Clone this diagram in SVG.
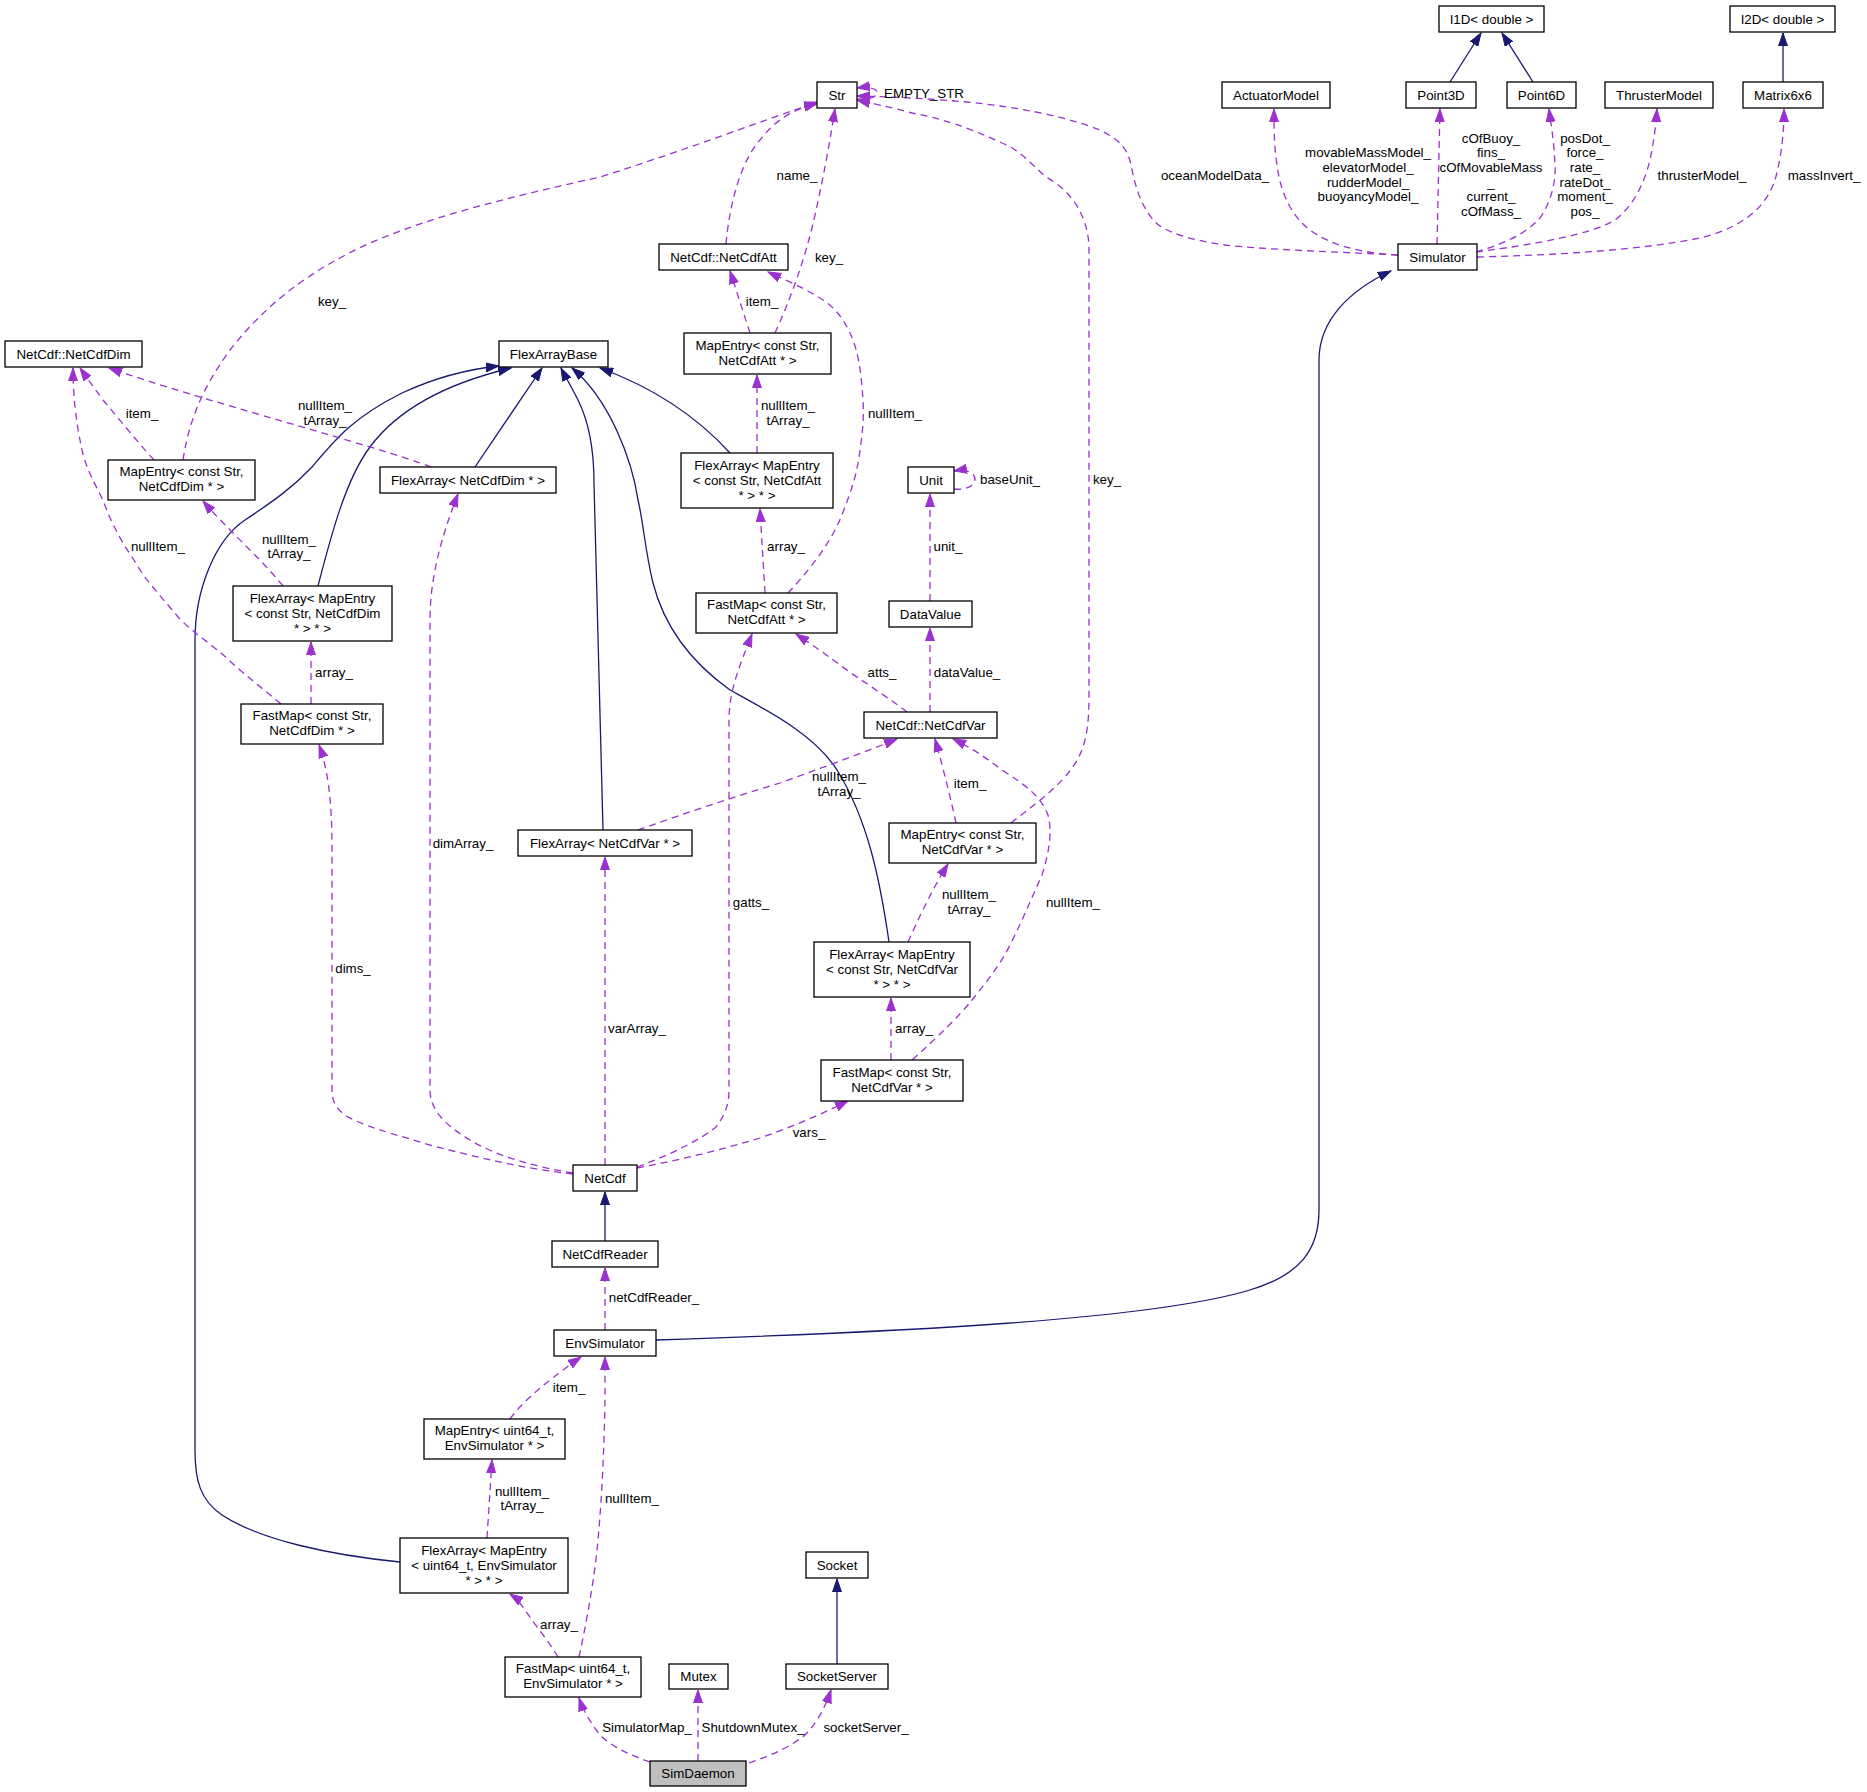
<svg xmlns="http://www.w3.org/2000/svg" width="1867" height="1792" viewBox="0 0 1867 1792">
<style>
.node rect{fill:#fff;stroke:#000;stroke-width:1.3}
.node rect.main{fill:#bfbfbf}
text{font-family:"Liberation Sans",Arial,Helvetica,sans-serif;font-size:13.33px;fill:#000}
.c{text-anchor:middle}
.inh{fill:none;stroke:#191970;stroke-width:1.3;marker-end:url(#ah)}
.use{fill:none;stroke:#9a32cd;stroke-width:1.3;stroke-dasharray:7,5;marker-end:url(#ap)}
</style>
<defs>
<marker id="ah" markerWidth="14" markerHeight="10" refX="13" refY="5" orient="auto" markerUnits="userSpaceOnUse" viewBox="0 0 14 10"><path d="M0,0.5 L13,5 L0,9.5 z" fill="#191970" stroke="#191970" stroke-width="1"/></marker>
<marker id="ap" markerWidth="14" markerHeight="10" refX="13" refY="5" orient="auto" markerUnits="userSpaceOnUse" viewBox="0 0 14 10"><path d="M0,0.5 L13,5 L0,9.5 z" fill="#9a32cd" stroke="#9a32cd" stroke-width="1"/></marker>
</defs>
<rect width="1867" height="1792" fill="#fff"/>
<g id="connectors">
<path class="inh" d="M1450,82 L1481,33"/>
<path class="inh" d="M1533,82 L1502,33"/>
<path class="inh" d="M1783,82 L1783,33"/>
<path class="inh" d="M475,467 L542,368"/>
<path class="inh" d="M318,586 C330,540 345,480 370,447 C395,413 440,385 511,368"/>
<path class="inh" d="M400,1562 C330,1555 260,1540 222,1515 C200,1500 195,1480 195,1450 L195,640 C195,590 215,540 245,520 C275,500 292,488 312,467 C335,440 352,418 402,393 C430,380 460,370 499,366"/>
<path class="inh" d="M603,830 L594,483 C594,450 588,420 578,400 C572,388 566,378 561,368"/>
<path class="inh" d="M889,942 C880,880 868,820 837,770 C815,735 770,712 730,690 C695,665 665,630 653,583 C645,550 643,520 638,500 C632,460 610,400 572,368"/>
<path class="inh" d="M730,453 C700,420 660,390 600,368"/>
<path class="inh" d="M605,1241 L605,1192"/>
<path class="inh" d="M656,1340 C900,1332 1150,1320 1250,1290 C1300,1275 1319,1250 1319,1210 L1319,360 C1319,320 1350,290 1391,271"/>
<path class="inh" d="M837,1664 L837,1579"/>
<path class="use" d="M857,99 C884,101 884,84 857,88"/>
<path class="use" d="M183,460 C190,415 205,385 230,350 C265,305 310,270 370,243 C440,213 520,195 600,177 C680,152 750,125 818,102"/>
<path class="use" d="M726,244 C730,200 742,160 760,140 C775,120 795,108 817,104"/>
<path class="use" d="M775,333 C790,300 805,260 815,215 C825,170 830,140 835,109"/>
<path class="use" d="M1011,823 C1040,800 1070,780 1082,750 C1089,730 1089,710 1089,690 L1089,250 C1089,215 1070,190 1046,177 C1030,163 1020,150 1002,143 C970,128 940,118 912,113 C890,107 870,103 857,100"/>
<path class="use" d="M1398,255 C1340,252 1270,250 1225,245 C1190,240 1165,232 1155,222 C1140,205 1135,185 1131,165 C1127,145 1115,138 1100,130 C1070,118 1030,110 1000,106 C960,100 900,97 857,96"/>
<path class="use" d="M1398,255 C1360,253 1330,245 1310,230 C1290,215 1280,190 1277,165 C1274,145 1274,130 1274,109"/>
<path class="use" d="M1437,244 L1440,109"/>
<path class="use" d="M1476,252 C1500,245 1525,235 1540,218 C1552,200 1556,180 1555,165 C1554,140 1551,125 1549,109"/>
<path class="use" d="M1476,252 C1530,245 1590,235 1615,220 C1635,205 1645,180 1650,160 C1654,140 1656,125 1657,109"/>
<path class="use" d="M1477,257 C1560,255 1640,250 1700,238 C1740,228 1765,210 1775,180 C1782,155 1784,130 1784,109"/>
<path class="use" d="M750,333 L730,271"/>
<path class="use" d="M788,593 C805,575 830,545 841,517 C852,490 858,470 860,450 C863,430 864,415 863,400 C861,370 858,350 850,333 C843,318 835,308 823,300 C805,288 785,280 768,272"/>
<path class="use" d="M757,453 L757,375"/>
<path class="use" d="M765,593 L760,509"/>
<path class="use" d="M154,460 C140,445 120,420 103,400 C92,385 85,375 80,368"/>
<path class="use" d="M431,467 C380,447 200,400 109,368"/>
<path class="use" d="M281,704 C262,688 245,675 232,663 C210,642 195,635 178,617 C160,595 145,580 134,560 C120,540 110,520 103,500 C93,480 84,465 80,440 C76,420 73,395 73,368"/>
<path class="use" d="M283,586 C270,570 255,555 245,545 C230,530 215,515 203,501"/>
<path class="use" d="M311,704 L311,642"/>
<path class="use" d="M573,1173 C530,1166 495,1155 470,1140 C445,1125 430,1110 430,1090 L430,620 C430,580 440,540 458,494"/>
<path class="use" d="M573,1174 C520,1168 480,1158 430,1145 C390,1133 360,1125 345,1115 C335,1108 332,1100 332,1090 L332,850 C332,800 328,770 319,745"/>
<path class="use" d="M605,1165 L605,857"/>
<path class="use" d="M637,1167 C670,1155 700,1140 716,1127 C725,1115 729,1105 729,1090 L729,720 C729,690 740,665 752,634"/>
<path class="use" d="M637,1168 C680,1160 720,1150 760,1138 C800,1124 830,1110 848,1101"/>
<path class="use" d="M907,712 C885,695 860,680 840,665 C820,650 808,642 796,634"/>
<path class="use" d="M930,712 L930,628"/>
<path class="use" d="M930,601 L930,494"/>
<path class="use" d="M954,489 C982,492 982,466 954,471"/>
<path class="use" d="M638,830 C680,815 730,798 780,783 C830,765 870,750 897,739"/>
<path class="use" d="M956,823 C951,800 945,775 935,739"/>
<path class="use" d="M912,1060 C940,1035 960,1015 972,1000 C988,980 1000,965 1010,945 C1025,915 1035,890 1042,875 C1050,850 1052,830 1048,815 C1040,795 1025,785 1002,770 C985,757 970,747 953,739"/>
<path class="use" d="M908,942 C918,920 930,893 948,864"/>
<path class="use" d="M891,1060 L891,998"/>
<path class="use" d="M605,1330 L605,1268"/>
<path class="use" d="M510,1419 C520,1405 535,1392 550,1380 C563,1370 572,1363 581,1357"/>
<path class="use" d="M487,1538 L492,1460"/>
<path class="use" d="M579,1657 C587,1620 594,1580 597,1550 C602,1500 604,1450 605,1400 L605,1357"/>
<path class="use" d="M558,1657 C548,1640 535,1625 525,1610 C518,1600 513,1596 510,1594"/>
<path class="use" d="M650,1762 C630,1755 612,1747 600,1735 C590,1722 583,1710 579,1698"/>
<path class="use" d="M698,1761 L698,1690"/>
<path class="use" d="M749,1763 C770,1756 790,1747 805,1735 C818,1722 826,1705 831,1690"/>
</g>
<g id="labels">
<text x="884" y="98">EMPTY_STR</text>
<text class="c" x="332" y="306">key_</text>
<text class="c" x="142" y="418">item_</text>
<text class="c" x="325" y="410">nullItem_</text>
<text class="c" x="325" y="425">tArray_</text>
<text class="c" x="797" y="180">name_</text>
<text class="c" x="829" y="262">key_</text>
<text class="c" x="1215" y="180">oceanModelData_</text>
<text class="c" x="762" y="306">item_</text>
<text class="c" x="788" y="410">nullItem_</text>
<text class="c" x="788" y="425">tArray_</text>
<text class="c" x="895" y="418">nullItem_</text>
<text class="c" x="1010" y="484">baseUnit_</text>
<text class="c" x="1107" y="484">key_</text>
<text class="c" x="1368" y="157">movableMassModel_</text>
<text class="c" x="1368" y="172">elevatorModel_</text>
<text class="c" x="1368" y="187">rudderModel_</text>
<text class="c" x="1368" y="201">buoyancyModel_</text>
<text class="c" x="1491" y="143">cOfBuoy_</text>
<text class="c" x="1491" y="157">fins_</text>
<text class="c" x="1491" y="172">cOfMovableMass</text>
<text class="c" x="1491" y="187">_</text>
<text class="c" x="1491" y="201">current_</text>
<text class="c" x="1491" y="216">cOfMass_</text>
<text class="c" x="1585" y="143">posDot_</text>
<text class="c" x="1585" y="157">force_</text>
<text class="c" x="1585" y="172">rate_</text>
<text class="c" x="1585" y="187">rateDot_</text>
<text class="c" x="1585" y="201">moment_</text>
<text class="c" x="1585" y="216">pos_</text>
<text class="c" x="1702" y="180">thrusterModel_</text>
<text class="c" x="1824" y="180">massInvert_</text>
<text class="c" x="158" y="551">nullItem_</text>
<text class="c" x="289" y="544">nullItem_</text>
<text class="c" x="289" y="558">tArray_</text>
<text class="c" x="334" y="677">array_</text>
<text class="c" x="463" y="848">dimArray_</text>
<text class="c" x="786" y="551">array_</text>
<text class="c" x="948" y="551">unit_</text>
<text class="c" x="882" y="677">atts_</text>
<text class="c" x="967" y="677">dataValue_</text>
<text class="c" x="839" y="781">nullItem_</text>
<text class="c" x="839" y="796">tArray_</text>
<text class="c" x="970" y="788">item_</text>
<text class="c" x="751" y="907">gatts_</text>
<text class="c" x="969" y="899">nullItem_</text>
<text class="c" x="969" y="914">tArray_</text>
<text class="c" x="1073" y="907">nullItem_</text>
<text class="c" x="353" y="973">dims_</text>
<text class="c" x="637" y="1033">varArray_</text>
<text class="c" x="914" y="1033">array_</text>
<text class="c" x="809" y="1137">vars_</text>
<text class="c" x="654" y="1302">netCdfReader_</text>
<text class="c" x="569" y="1392">item_</text>
<text class="c" x="522" y="1496">nullItem_</text>
<text class="c" x="522" y="1510">tArray_</text>
<text class="c" x="632" y="1503">nullItem_</text>
<text class="c" x="559" y="1629">array_</text>
<text class="c" x="647" y="1732">SimulatorMap_</text>
<text class="c" x="753" y="1732">ShutdownMutex_</text>
<text class="c" x="866" y="1732">socketServer_</text>
</g>
<g id="Str" class="node"><rect x="817" y="82" width="40" height="26"/><text class="c" x="837" y="100">Str</text></g>
<g id="ActuatorModel" class="node"><rect x="1222" y="82" width="108" height="26"/><text class="c" x="1276" y="100">ActuatorModel</text></g>
<g id="I1D" class="node"><rect x="1439" y="6" width="105" height="26"/><text class="c" x="1491.5" y="24">I1D&lt; double &gt;</text></g>
<g id="I2D" class="node"><rect x="1730" y="6" width="105" height="26"/><text class="c" x="1782.5" y="24">I2D&lt; double &gt;</text></g>
<g id="Point3D" class="node"><rect x="1406" y="82" width="70" height="26"/><text class="c" x="1441" y="100">Point3D</text></g>
<g id="Point6D" class="node"><rect x="1507" y="82" width="69" height="26"/><text class="c" x="1541.5" y="100">Point6D</text></g>
<g id="ThrusterModel" class="node"><rect x="1605" y="82" width="108" height="26"/><text class="c" x="1659" y="100">ThrusterModel</text></g>
<g id="Matrix6x6" class="node"><rect x="1743" y="82" width="80" height="26"/><text class="c" x="1783" y="100">Matrix6x6</text></g>
<g id="Simulator" class="node"><rect x="1398" y="244" width="79" height="26"/><text class="c" x="1437.5" y="262">Simulator</text></g>
<g id="NetCdfAtt" class="node"><rect x="659" y="244" width="129" height="26"/><text class="c" x="723.5" y="262">NetCdf::NetCdfAtt</text></g>
<g id="MapEntryAtt" class="node"><rect x="684" y="333" width="147" height="41"/><text class="c" x="757.5" y="350">MapEntry&lt; const Str,</text><text class="c" x="757.5" y="365">NetCdfAtt * &gt;</text></g>
<g id="NetCdfDim" class="node"><rect x="5" y="341" width="137" height="26"/><text class="c" x="73.5" y="359">NetCdf::NetCdfDim</text></g>
<g id="FlexArrayBase" class="node"><rect x="499" y="341" width="109" height="26"/><text class="c" x="553.5" y="359">FlexArrayBase</text></g>
<g id="MapEntryDim" class="node"><rect x="108" y="460" width="147" height="40"/><text class="c" x="181.5" y="476">MapEntry&lt; const Str,</text><text class="c" x="181.5" y="491">NetCdfDim * &gt;</text></g>
<g id="FlexArrayDim" class="node"><rect x="380" y="467" width="176" height="26"/><text class="c" x="468" y="485">FlexArray&lt; NetCdfDim * &gt;</text></g>
<g id="FlexArrayMapAtt" class="node"><rect x="681" y="453" width="152" height="55"/><text class="c" x="757" y="470">FlexArray&lt; MapEntry</text><text class="c" x="757" y="485">&lt; const Str, NetCdfAtt</text><text class="c" x="757" y="500">* &gt; * &gt;</text></g>
<g id="Unit" class="node"><rect x="908" y="467" width="46" height="26"/><text class="c" x="931" y="485">Unit</text></g>
<g id="FlexArrayMapDim" class="node"><rect x="233" y="586" width="159" height="55"/><text class="c" x="312.5" y="603">FlexArray&lt; MapEntry</text><text class="c" x="312.5" y="618">&lt; const Str, NetCdfDim</text><text class="c" x="312.5" y="633">* &gt; * &gt;</text></g>
<g id="FastMapAtt" class="node"><rect x="696" y="593" width="141" height="40"/><text class="c" x="766.5" y="609">FastMap&lt; const Str,</text><text class="c" x="766.5" y="624">NetCdfAtt * &gt;</text></g>
<g id="DataValue" class="node"><rect x="889" y="601" width="83" height="26"/><text class="c" x="930.5" y="619">DataValue</text></g>
<g id="FastMapDim" class="node"><rect x="241" y="704" width="142" height="40"/><text class="c" x="312" y="720">FastMap&lt; const Str,</text><text class="c" x="312" y="735">NetCdfDim * &gt;</text></g>
<g id="NetCdfVar" class="node"><rect x="864" y="712" width="133" height="26"/><text class="c" x="930.5" y="730">NetCdf::NetCdfVar</text></g>
<g id="MapEntryVar" class="node"><rect x="889" y="823" width="147" height="40"/><text class="c" x="962.5" y="839">MapEntry&lt; const Str,</text><text class="c" x="962.5" y="854">NetCdfVar * &gt;</text></g>
<g id="FlexArrayVar" class="node"><rect x="518" y="830" width="174" height="26"/><text class="c" x="605" y="848">FlexArray&lt; NetCdfVar * &gt;</text></g>
<g id="FlexArrayMapVar" class="node"><rect x="814" y="942" width="156" height="55"/><text class="c" x="892" y="959">FlexArray&lt; MapEntry</text><text class="c" x="892" y="974">&lt; const Str, NetCdfVar</text><text class="c" x="892" y="989">* &gt; * &gt;</text></g>
<g id="FastMapVar" class="node"><rect x="821" y="1060" width="142" height="41"/><text class="c" x="892" y="1077">FastMap&lt; const Str,</text><text class="c" x="892" y="1092">NetCdfVar * &gt;</text></g>
<g id="NetCdf" class="node"><rect x="573" y="1165" width="64" height="26"/><text class="c" x="605" y="1183">NetCdf</text></g>
<g id="NetCdfReader" class="node"><rect x="552" y="1241" width="106" height="26"/><text class="c" x="605" y="1259">NetCdfReader</text></g>
<g id="EnvSimulator" class="node"><rect x="554" y="1330" width="102" height="26"/><text class="c" x="605" y="1348">EnvSimulator</text></g>
<g id="MapEntryU64" class="node"><rect x="424" y="1419" width="141" height="40"/><text class="c" x="494.5" y="1435">MapEntry&lt; uint64_t,</text><text class="c" x="494.5" y="1450">EnvSimulator * &gt;</text></g>
<g id="FlexArrayMapU64" class="node"><rect x="400" y="1538" width="168" height="55"/><text class="c" x="484" y="1555">FlexArray&lt; MapEntry</text><text class="c" x="484" y="1570">&lt; uint64_t, EnvSimulator</text><text class="c" x="484" y="1585">* &gt; * &gt;</text></g>
<g id="Socket" class="node"><rect x="806" y="1552" width="62" height="26"/><text class="c" x="837" y="1570">Socket</text></g>
<g id="FastMapU64" class="node"><rect x="505" y="1657" width="136" height="40"/><text class="c" x="573" y="1673">FastMap&lt; uint64_t,</text><text class="c" x="573" y="1688">EnvSimulator * &gt;</text></g>
<g id="Mutex" class="node"><rect x="669" y="1664" width="59" height="25"/><text class="c" x="698.5" y="1681">Mutex</text></g>
<g id="SocketServer" class="node"><rect x="786" y="1664" width="102" height="25"/><text class="c" x="837" y="1681">SocketServer</text></g>
<g id="SimDaemon" class="node"><rect class="main" x="650" y="1761" width="96" height="25"/><text class="c" x="698" y="1778">SimDaemon</text></g>
</svg>
